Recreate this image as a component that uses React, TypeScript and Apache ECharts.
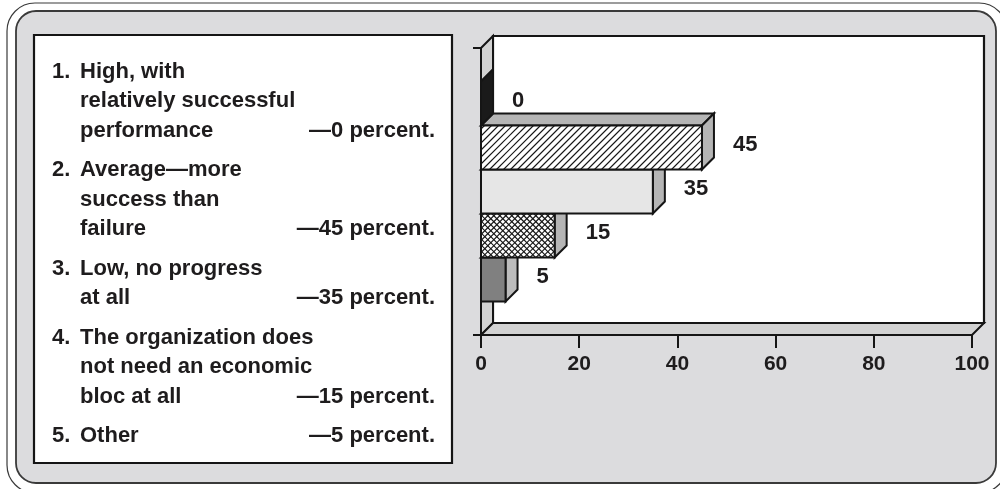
import React, { useEffect, useRef } from "react";
import * as echarts from "echarts";

// ---- data ----
const categories: string[][] = [
  ["High, with", "relatively successful", "performance"],
  ["Average\u2014more", "success than", "failure"],
  ["Low, no progress", "at all"],
  ["The organization does", "not need an economic", "bloc at all"],
  ["Other"],
];
const values = [0, 45, 35, 15, 5];
const xTicks = [0, 20, 40, 60, 80, 100];
const frontStyles = ["solid", "hatch", "solid", "cross", "solid"];
const frontFills = ["#1a1a1a", "#ffffff", "#e6e6e6", "#ffffff", "#808080"];
const sideFills = ["#1a1a1a", "#b5b5b5", "#b5b5b5", "#b5b5b5", "#bcbcbc"];

const DEPTH = 12;
const BAR_FRAC = 0.1533;
const INK = "#151515";
const TXT = "#1e1c1d";
const FAMILY = "'Liberation Sans', Arial, sans-serif";
const FONT = `bold 22px ${FAMILY}`;

function hatchLines(x0: number, y0: number, x1: number, y1: number, step: number, dir: number) {
  const out: any[] = [];
  if (x1 - x0 < 1) return out;
  if (dir > 0) {
    for (let c = x0 + y0 + step / 2; c < x1 + y1; c += step) {
      const xa = Math.max(x0, c - y1);
      const xb = Math.min(x1, c - y0);
      if (xb <= xa) continue;
      out.push({ type: "line", shape: { x1: xa, y1: c - xa, x2: xb, y2: c - xb }, style: { stroke: INK, lineWidth: 1.1 } });
    }
  } else {
    for (let c = y0 - x1 + step / 2; c < y1 - x0; c += step) {
      const xa = Math.max(x0, y0 - c);
      const xb = Math.min(x1, y1 - c);
      if (xb <= xa) continue;
      out.push({ type: "line", shape: { x1: xa, y1: xa + c, x2: xb, y2: xb + c }, style: { stroke: INK, lineWidth: 1.1 } });
    }
  }
  return out;
}

function renderBox(params: any, _api: any) {
  const cs = params.coordSys;
  const L = cs.x, T = cs.y, R = cs.x + cs.width, B = cs.y + cs.height, d = DEPTH;
  return {
    type: "group",
    children: [
      { type: "rect", shape: { x: L + d, y: T - d, width: R - L, height: B - T }, style: { fill: "#ffffff", stroke: INK, lineWidth: 2.2 } },
      { type: "polygon", shape: { points: [[L, T], [L + d, T - d], [L + d, B - d], [L, B]] }, style: { fill: "#d2d2d2", stroke: INK, lineWidth: 2 } },
      { type: "polygon", shape: { points: [[L, B], [L + d, B - d], [R + d, B - d], [R, B]] }, style: { fill: "#d2d2d2", stroke: INK, lineWidth: 2 } },
    ],
  };
}

function renderBar(_params: any, api: any) {
  const v = api.value(0);
  const idx = api.value(2);
  const c0 = api.coord([0, 0]);
  const c1 = api.coord([v, 0]);
  const band = api.size([0, 1])[1];
  const bh = band * BAR_FRAC;
  const top = c0[1] - (bh * values.length) / 2 + idx * bh;
  const x0 = c0[0], x1 = c1[0], y0 = top, y1 = top + bh, d = DEPTH;
  const stroke = { stroke: INK, lineWidth: 2 };
  const children: any[] = [];
  children.push({ type: "polygon", shape: { points: [[x0, y0], [x1, y0], [x1 + d, y0 - d], [x0 + d, y0 - d]] }, style: { fill: sideFills[idx], ...stroke } });
  children.push({ type: "polygon", shape: { points: [[x1, y0], [x1 + d, y0 - d], [x1 + d, y1 - d], [x1, y1]] }, style: { fill: sideFills[idx], ...stroke } });
  children.push({ type: "rect", shape: { x: x0, y: y0, width: x1 - x0, height: bh }, style: { fill: frontFills[idx] } });
  const st = frontStyles[idx];
  if (st === "hatch") children.push(...hatchLines(x0, y0, x1, y1, 7, 1));
  if (st === "cross") {
    children.push(...hatchLines(x0, y0, x1, y1, 6, 1));
    children.push(...hatchLines(x0, y0, x1, y1, 6, -1));
  }
  children.push({ type: "rect", shape: { x: x0, y: y0, width: x1 - x0, height: bh }, style: { fill: "none", ...stroke } });
  children.push({
    type: "text",
    style: {
      text: String(v), x: x1 + d + 19, y: (y0 + y1) / 2 - 4, font: FONT, fill: TXT,
      textAlign: "left", align: "left", textVerticalAlign: "middle", verticalAlign: "middle",
    },
  });
  return { type: "group", children };
}

function legendGraphics() {
  const els: any[] = [];
  els.push({ type: "rect", z: 1, shape: { x: 7, y: 3, width: 1000, height: 490, r: 28 }, style: { fill: "#ffffff", stroke: "#3a3a3a", lineWidth: 1.2 } });
  els.push({ type: "rect", z: 2, shape: { x: 16, y: 11, width: 980, height: 472, r: 20 }, style: { fill: "#dcdcde", stroke: "#3a3a3a", lineWidth: 1.8 } });
  els.push({ type: "rect", z: 3, shape: { x: 34, y: 35, width: 418, height: 428 }, style: { fill: "#ffffff", stroke: INK, lineWidth: 2.2 } });
  const lineH = 29.5, gap = 10;
  let y = 70;
  categories.forEach((lines, i) => {
    els.push({ type: "text", z: 4, style: { text: `${i + 1}.`, x: 52, y, font: FONT, fill: TXT, textAlign: "left", align: "left", textVerticalAlign: "middle", verticalAlign: "middle" } });
    lines.forEach((ln, j) => {
      const yy = y + j * lineH;
      els.push({ type: "text", z: 4, style: { text: ln, x: 80, y: yy, font: FONT, fill: TXT, textAlign: "left", align: "left", textVerticalAlign: "middle", verticalAlign: "middle" } });
      if (j === lines.length - 1) {
        els.push({ type: "text", z: 4, style: { text: `\u2014${values[i]} percent.`, x: 435, y: yy, font: FONT, fill: TXT, textAlign: "right", align: "right", textVerticalAlign: "middle", verticalAlign: "middle" } });
      }
    });
    y += lines.length * lineH + gap;
  });
  return els;
}

export default function App() {
  const ref = useRef<HTMLDivElement>(null);
  useEffect(() => {
    if (!ref.current) return;
    const chart = echarts.init(ref.current, undefined, { renderer: "svg" });
    const barData = values.map((v, i) => [v, 0, i]).reverse();
    chart.setOption({
      animation: false,
      graphic: { elements: legendGraphics() },
      grid: { left: 481, top: 48, width: 491, height: 287, containLabel: false },
      xAxis: {
        type: "value", min: xTicks[0], max: xTicks[xTicks.length - 1], interval: 20, z: 10,
        axisLine: { show: true, lineStyle: { color: INK, width: 2 } },
        axisTick: { show: true, length: 13, lineStyle: { color: INK, width: 2 } },
        splitLine: { show: false },
        axisLabel: { show: true, margin: 17, color: TXT, fontSize: 21, fontWeight: "bold", fontFamily: FAMILY },
      },
      yAxis: {
        type: "category", data: [""], z: 10,
        axisLine: { show: true, lineStyle: { color: INK, width: 2 } },
        axisTick: { show: true, length: 8, lineStyle: { color: INK, width: 2 } },
        axisLabel: { show: false },
        splitLine: { show: false },
      },
      series: [
        { type: "custom", z: 5, renderItem: renderBox, data: [[0, 0]], silent: true, clip: false },
        { type: "custom", z: 6, renderItem: renderBar, data: barData, encode: { x: 0, y: 1 }, clip: false },
      ],
    });
    return () => chart.dispose();
  }, []);
  return <div ref={ref} style={{ position: "fixed", left: 0, top: 0, width: 1000, height: 489 }} />;
}
